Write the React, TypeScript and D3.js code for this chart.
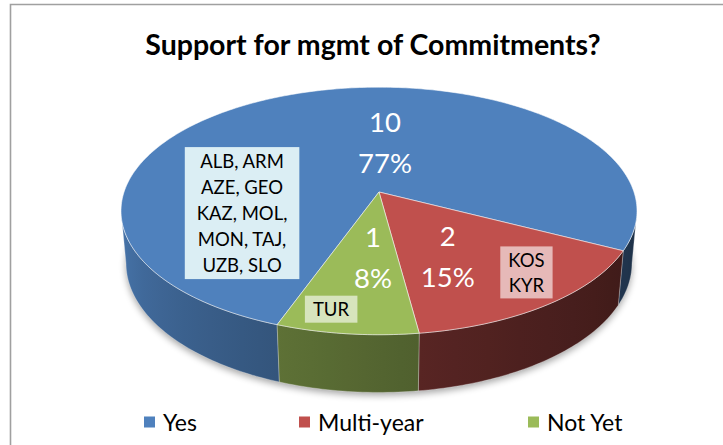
import React, { useEffect, useRef } from "react";
import * as d3 from "d3";

// chart data
const titleText = "Support for mgmt of Commitments?";
const categories = ["Yes", "Multi-year", "Not Yet"];
const counts = [10, 2, 1];
const countryLists = [
  ["ALB, ARM", "AZE, GEO", "KAZ, MOL,", "MON, TAJ,", "UZB, SLO"],
  ["KOS", "KYR"],
  ["TUR"],
];

// styles
const topColors = ["#4f81bd", "#c0504d", "#9bbb59"];
const wallTone = [1, 0.82, 0.92];
const boxColors = ["#dbeef4", "#e6b9b8", "#d7e4bd"];
const FONT = "Lato, 'Open Sans', sans-serif";

// layout
const W = 723;
const H = 445;
const cx = 379;
const cy = 192;
const focal = 1466;
const dist = 5.75;
const tilt = (28.3 * Math.PI) / 180;
const depth = 0.235;
const startDeg = 200;
// label anchors on the pie, as [angle deg clockwise from back, radius fraction]
const valueLabelAt = [[3.3, 0.44], [153, 0.55], [182.5, 0.5]];
const boxLabelAt = [[252, 0.55], [139, 0.8], [191, 0.86]];
const legendX = [144, 299, 528];
const legendY = 422;

function project(a: number, r: number, h: number): [number, number] {
  const X = r * Math.sin(a);
  const Z = -r * Math.cos(a);
  const w = dist + h * Math.sin(tilt) - Z * Math.cos(tilt);
  const v = h * Math.cos(tilt) + Z * Math.sin(tilt);
  return [cx + (focal * X) / w, cy + (focal * v) / w];
}

function rim(a0: number, a1: number, h: number) {
  const n = Math.max(2, Math.ceil(Math.abs(a1 - a0) / (Math.PI / 180)));
  return d3.range(n + 1).map((i) => project(a0 + ((a1 - a0) * i) / n, 1, h));
}

export default function App() {
  const ref = useRef<SVGSVGElement>(null);

  useEffect(() => {
    const svg = d3.select(ref.current);
    svg.selectAll("*").remove();
    const defs = svg.append("defs");

    const line = d3.line().curve(d3.curveLinearClosed);
    const total = d3.sum(counts);
    const pct = d3.format(".0%");

    // frame lines (top and left visible)
    svg.append("path")
      .attr("d", `M10.5,${H} V4.5 H${W}`)
      .attr("fill", "none")
      .attr("stroke", "#a0a0a0")
      .attr("stroke-width", 1.6);

    svg.append("text")
      .attr("x", 373)
      .attr("y", 44)
      .attr("text-anchor", "middle")
      .attr("dominant-baseline", "central")
      .attr("font-family", FONT)
      .attr("font-weight", "bold")
      .attr("font-size", 28.5)
      .text(titleText);

    const start = (startDeg * Math.PI) / 180;
    const arcs = d3.pie<number>().sort(null).startAngle(start).endAngle(start + 2 * Math.PI)(counts);

    // visible front part of the outer wall
    const aR = Math.acos(-Math.cos(tilt) / dist);
    const aL = 2 * Math.PI - aR;
    const shade = (a: number) => {
      let an = a % (2 * Math.PI);
      if (an < 0) an += 2 * Math.PI;
      const t = Math.max(0, Math.min(1, (an - aR) / (aL - aR)));
      return 0.38 + 0.54 * Math.pow(t, 1.4);
    };

    // shadow
    const blur = defs.append("filter").attr("id", "shadow").attr("x", "-10%").attr("y", "-10%").attr("width", "120%").attr("height", "130%");
    blur.append("feGaussianBlur").attr("stdDeviation", 3.5);
    svg.append("path")
      .attr("d", line(rim(0, 2 * Math.PI, depth)))
      .attr("transform", "translate(0,3)")
      .attr("fill", "#000")
      .attr("opacity", 0.35)
      .attr("filter", "url(#shadow)");

    const walls = svg.append("g");
    arcs.forEach((d, i) => {
      const base = d3.rgb(topColors[i]);
      for (let k = -1; k <= 2; k++) {
        const p0 = Math.max(d.startAngle, aR + 2 * Math.PI * k);
        const p1 = Math.min(d.endAngle, aL + 2 * Math.PI * k);
        if (p1 <= p0) continue;
        const id = `wall-${i}-${k}`;
        const xs = d3.range(9).map((j) => p0 + ((p1 - p0) * j) / 8);
        const px = xs.map((a) => project(a, 1, 0)[0]);
        const x1 = d3.min(px)!;
        const x2 = d3.max(px)!;
        const grad = defs.append("linearGradient")
          .attr("id", id)
          .attr("gradientUnits", "userSpaceOnUse")
          .attr("x1", x1).attr("x2", x2).attr("y1", 0).attr("y2", 0);
        xs.map((a, j) => ({ off: (px[j] - x1) / (x2 - x1 || 1), s: shade(a) * wallTone[i] }))
          .sort((a, b) => a.off - b.off)
          .forEach((st) => {
            grad.append("stop")
              .attr("offset", st.off)
              .attr("stop-color", d3.rgb(base.r * st.s, base.g * st.s, base.b * st.s).formatHex());
          });
        walls.append("path")
          .attr("d", line([...rim(p0, p1, 0), ...rim(p0, p1, depth).reverse()]))
          .attr("fill", `url(#${id})`)
          .attr("stroke", "rgba(255,255,255,0.35)")
          .attr("stroke-width", 0.8);
      }
    });

    const tops = svg.append("g");
    arcs.forEach((d, i) => {
      tops.append("path")
        .attr("d", line([project(0, 0, 0), ...rim(d.startAngle, d.endAngle, 0)]))
        .attr("fill", topColors[i])
        .attr("stroke", "rgba(255,255,255,0.55)")
        .attr("stroke-width", 1);
    });

    // value labels
    arcs.forEach((d, i) => {
      const [lx, ly] = project((valueLabelAt[i][0] * Math.PI) / 180, valueLabelAt[i][1], 0);
      [String(d.data), pct(d.data / total)].forEach((s, j) => {
        svg.append("text")
          .attr("x", lx)
          .attr("y", ly + (j - 0.5) * 41)
          .attr("text-anchor", "middle")
          .attr("dominant-baseline", "central")
          .attr("font-family", FONT)
          .attr("font-size", 27.5)
          .attr("fill", "#fff")
          .text(s);
      });
    });

    // country boxes
    countryLists.forEach((lines, i) => {
      const [bx, by] = project((boxLabelAt[i][0] * Math.PI) / 180, boxLabelAt[i][1], 0);
      const g = svg.append("g");
      const rect = g.append("rect").attr("fill", boxColors[i]);
      const lh = lines.length > 2 ? 26 : 25;
      const tg = g.append("g");
      lines.forEach((s, j) => {
        tg.append("text")
          .attr("x", bx)
          .attr("y", by + (j - (lines.length - 1) / 2) * lh)
          .attr("text-anchor", "middle")
          .attr("dominant-baseline", "central")
          .attr("font-family", FONT)
          .attr("font-size", 18.5)
          .attr("fill", "#000")
          .text(s);
      });
      const bb = (tg.node() as SVGGElement).getBBox();
      const padX = lines.length > 2 ? 12 : 8;
      rect.attr("x", bb.x - padX)
        .attr("y", by - (lines.length * lh) / 2 - 1)
        .attr("width", bb.width + 2 * padX)
        .attr("height", lines.length * lh + 2);
    });

    // legend
    categories.forEach((c, i) => {
      svg.append("rect")
        .attr("x", legendX[i])
        .attr("y", legendY - 5.5)
        .attr("width", 11)
        .attr("height", 11)
        .attr("fill", topColors[i]);
      svg.append("text")
        .attr("x", legendX[i] + 19)
        .attr("y", legendY)
        .attr("dominant-baseline", "central")
        .attr("font-family", FONT)
        .attr("font-size", 23)
        .attr("fill", "#000")
        .text(c);
    });
  }, []);

  return (
    <svg
      ref={ref}
      width={W}
      height={H}
      style={{ position: "fixed", left: 0, top: 0, background: "#fff" }}
    />
  );
}
